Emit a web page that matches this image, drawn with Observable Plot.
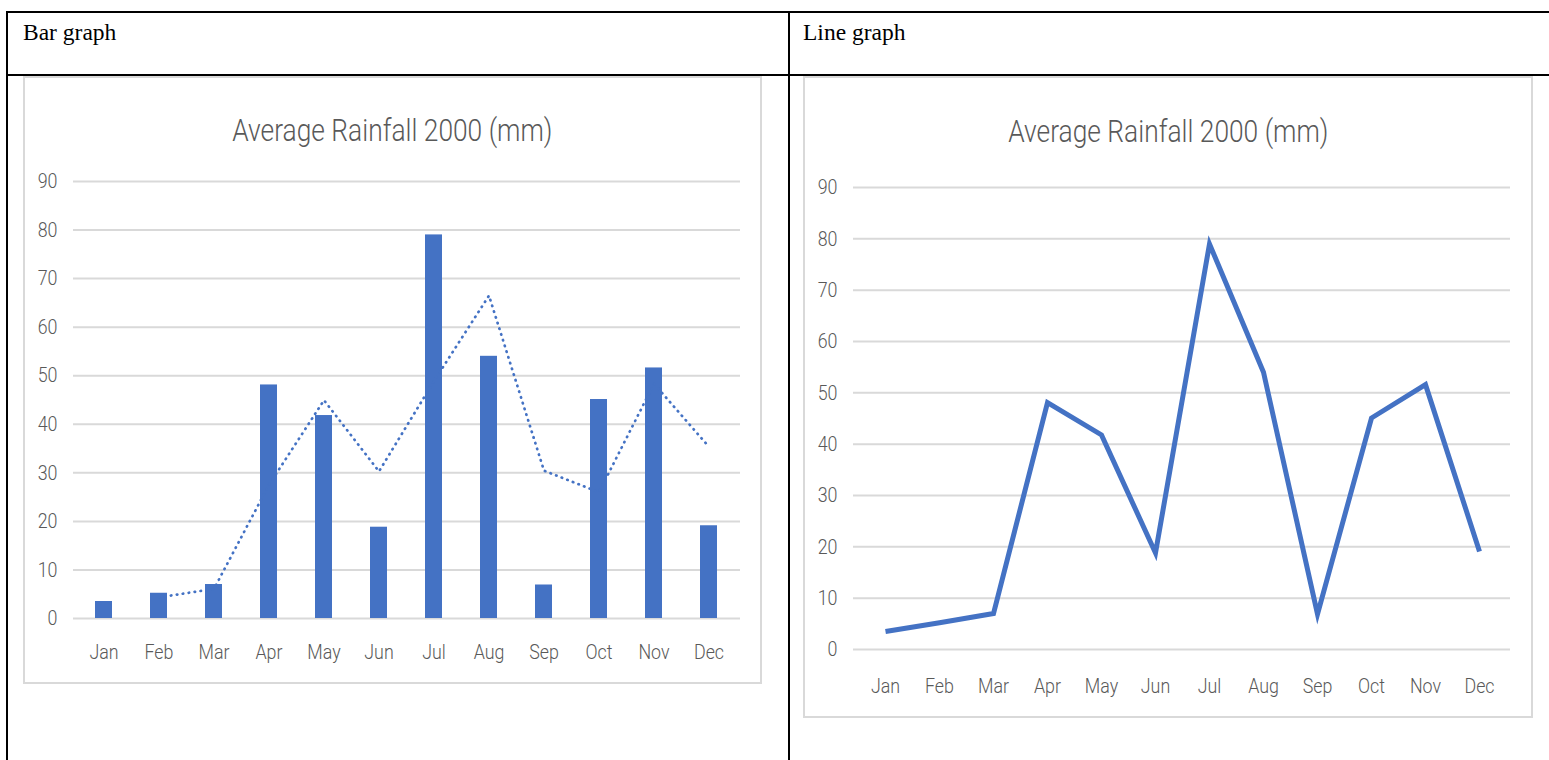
<!DOCTYPE html>
<html>
<head>
<meta charset="utf-8">
<script src="https://cdn.jsdelivr.net/npm/d3@7"></script>
<script src="https://cdn.jsdelivr.net/npm/@observablehq/plot@0.6"></script>
<style>
  html, body { margin: 0; padding: 0; background: #fff; }
  body { width: 1549px; height: 760px; position: relative; overflow: hidden; }
  .rule { position: absolute; background: #000; }
  .cell-head {
    position: absolute; font-family: "Liberation Serif", "Times New Roman", serif;
    font-size: 23.5px; line-height: 24px; color: #000; white-space: nowrap;
  }
  .chart-box {
    position: absolute; box-sizing: border-box; border: 2px solid #d9d9d9; background: #fff;
  }
  .chart-title {
    position: absolute; left: 0; right: 0; text-align: center;
    font-family: Roboto, "Open Sans", sans-serif; font-weight: 300;
    font-size: 31px; line-height: 31px; color: #595959; white-space: nowrap;
  }
  .chart-title span { display: inline-block; transform: scaleX(0.85); transform-origin: 50% 50%; }
  .plot { position: absolute; }
</style>
</head>
<body>
<!-- table grid -->
<div class="rule" style="left:6px; top:11px; width:1543px; height:2px;"></div>
<div class="rule" style="left:6px; top:74px; width:1543px; height:2px;"></div>
<div class="rule" style="left:6px; top:11px; width:2px; height:749px;"></div>
<div class="rule" style="left:788px; top:11px; width:2px; height:749px;"></div>

<div class="cell-head" style="left:23px; top:20px;">Bar graph</div>
<div class="cell-head" style="left:803px; top:20px;">Line graph</div>

<div class="chart-box" style="left:23px; top:76px; width:739px; height:608px;">
  <div class="chart-title" style="top:37px;"><span>Average Rainfall 2000 (mm)</span></div>
</div>
<div class="chart-box" style="left:803px; top:76px; width:730px; height:642px;">
  <div class="chart-title" style="top:38px;"><span>Average Rainfall 2000 (mm)</span></div>
</div>

<div id="bar" class="plot" style="left:23px; top:160px;"></div>
<div id="line" class="plot" style="left:803px; top:165px;"></div>

<script>
// Average monthly rainfall, year 2000 (mm)
const months = ["Jan", "Feb", "Mar", "Apr", "May", "Jun", "Jul", "Aug", "Sep", "Oct", "Nov", "Dec"];
const rainfall = [3.5, 5.2, 7, 48.1, 41.8, 18.8, 79, 54, 6.9, 45.1, 51.6, 19.1];
const yTicks = [0, 10, 20, 30, 40, 50, 60, 70, 80, 90];

const data = months.map((month, i) => ({month, value: rainfall[i]}));

const blue = "#4472C4";
const grid = "#d9d9d9";
const axisFont = {
  fontFamily: 'Roboto, "Open Sans", sans-serif',
  fontWeight: 300,
  fontSize: "21px",
  color: "#595959",
  background: "transparent",
  overflow: "visible"
};

// Narrow the tick labels horizontally around their anchor point
function condense(svg, sx) {
  svg.querySelectorAll("text").forEach((t) => {
    const tr = t.getAttribute("transform") || "";
    t.setAttribute("transform", `${tr} scale(${sx},1)`.trim());
  });
  return svg;
}

// Bar chart with a two-period moving-average trendline
const barChart = Plot.plot({
  width: 739,
  height: 516,
  marginLeft: 50,
  marginRight: 22,
  marginTop: 21,
  marginBottom: 58,
  style: axisFont,
  x: {domain: months, paddingInner: 0.687, paddingOuter: 0.3435, tickSize: 0, tickPadding: 26, label: null},
  y: {domain: [0, 90], ticks: yTicks, tickSize: 0, tickPadding: 16, label: null},
  marks: [
    Plot.ruleY(yTicks, {stroke: grid, strokeWidth: 2}),
    Plot.barY(data, {x: "month", y: "value", fill: blue}),
    Plot.lineY(data, Plot.windowY({k: 2, anchor: "end", reduce: "mean", strict: true}, {
      x: "month", y: "value", stroke: blue, strokeWidth: 2.7,
      strokeDasharray: "0.5,5.5", strokeLinecap: "round", strokeLinejoin: "round"
    }))
  ]
});
document.getElementById("bar").appendChild(condense(barChart, 0.85));

// Line chart of the same monthly values
const lineChart = Plot.plot({
  width: 730,
  height: 542,
  marginLeft: 50,
  marginRight: 23,
  marginTop: 22,
  marginBottom: 58,
  style: axisFont,
  x: {type: "point", domain: months, padding: 0.5, tickSize: 0, tickPadding: 29, label: null},
  y: {domain: [0, 90], ticks: yTicks, tickSize: 0, tickPadding: 16, label: null},
  marks: [
    Plot.ruleY(yTicks, {stroke: grid, strokeWidth: 2}),
    Plot.line(data, {
      x: "month", y: "value", stroke: blue, strokeWidth: 5,
      strokeLinejoin: "miter", strokeMiterlimit: 10, strokeLinecap: "butt"
    })
  ]
});
document.getElementById("line").appendChild(condense(lineChart, 0.85));
</script>
</body>
</html>
